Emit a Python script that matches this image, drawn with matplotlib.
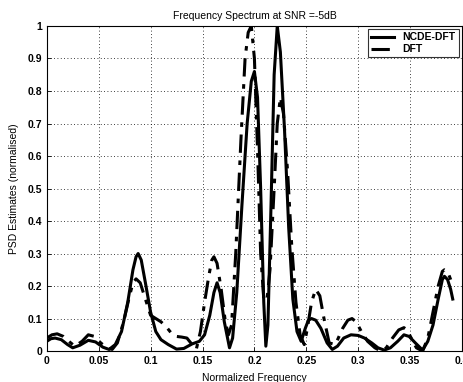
import numpy as np
import matplotlib
matplotlib.use('Agg')
from matplotlib import pyplot as plt

plt.rcParams['font.family'] = ['Liberation Sans', 'DejaVu Sans']

# NCDE-DFT (solid)
f_ncde = [0.0, 0.004, 0.008, 0.014, 0.02, 0.025, 0.032, 0.04, 0.047, 0.054, 0.06, 0.066,
          0.072, 0.078, 0.083, 0.086, 0.088, 0.091, 0.095, 0.10, 0.105, 0.11, 0.117, 0.125,
          0.132, 0.14, 0.147, 0.152, 0.157, 0.161, 0.164, 0.167, 0.171, 0.176, 0.179, 0.183,
          0.188, 0.193, 0.197, 0.200, 0.203, 0.206, 0.209, 0.211, 0.213, 0.216, 0.219, 0.222,
          0.225, 0.229, 0.233, 0.237, 0.241, 0.245, 0.249, 0.252, 0.255, 0.259, 0.264, 0.27,
          0.275, 0.28, 0.286, 0.293, 0.30, 0.306, 0.313, 0.319, 0.325, 0.331, 0.338, 0.344,
          0.349, 0.355, 0.362, 0.367, 0.372, 0.377, 0.381, 0.383, 0.386, 0.389, 0.391]
p_ncde = [0.03, 0.038, 0.04, 0.035, 0.02, 0.01, 0.018, 0.033, 0.028, 0.012, 0.005, 0.02,
          0.06, 0.15, 0.25, 0.29, 0.30, 0.28, 0.21, 0.12, 0.06, 0.035, 0.02, 0.006,
          0.008, 0.022, 0.03, 0.05, 0.11, 0.18, 0.21, 0.18, 0.09, 0.01, 0.04, 0.18,
          0.45, 0.7, 0.83, 0.86, 0.78, 0.5, 0.15, 0.015, 0.08, 0.45, 0.85, 1.0,
          0.92, 0.68, 0.38, 0.16, 0.06, 0.03, 0.07, 0.095, 0.10, 0.095, 0.07, 0.025,
          0.005, 0.015, 0.04, 0.05, 0.048, 0.04, 0.025, 0.01, 0.003, 0.01, 0.03, 0.05,
          0.045, 0.025, 0.003, 0.03, 0.08, 0.16, 0.22, 0.23, 0.22, 0.19, 0.16]

# DFT (dash-dot)
f_dft = [0.0, 0.005, 0.01, 0.016, 0.022, 0.027, 0.034, 0.04, 0.046, 0.052, 0.058, 0.063,
         0.068, 0.074, 0.079, 0.083, 0.086, 0.09, 0.095, 0.10, 0.105, 0.11, 0.115, 0.12,
         0.125, 0.13, 0.135, 0.14, 0.144, 0.148, 0.152, 0.156, 0.159, 0.161, 0.164, 0.168,
         0.172, 0.175, 0.178, 0.182, 0.187, 0.191, 0.194, 0.197, 0.2, 0.203, 0.206, 0.209,
         0.212, 0.215, 0.219, 0.222, 0.225, 0.228, 0.232, 0.236, 0.24, 0.244, 0.248, 0.251,
         0.255, 0.259, 0.263, 0.267, 0.272, 0.278, 0.285, 0.29, 0.294, 0.298, 0.303, 0.309,
         0.316, 0.322, 0.327, 0.333, 0.339, 0.344, 0.347, 0.351, 0.356, 0.362, 0.367, 0.372,
         0.377, 0.381, 0.383, 0.386, 0.389, 0.391]
p_dft = [0.04, 0.05, 0.053, 0.045, 0.028, 0.015, 0.03, 0.05, 0.045, 0.025, 0.01, 0.005,
         0.025, 0.09, 0.16, 0.21, 0.222, 0.21, 0.16, 0.11, 0.1, 0.09, 0.075, 0.055,
         0.045, 0.043, 0.04, 0.02, 0.005, 0.06, 0.15, 0.23, 0.28, 0.29, 0.27, 0.19,
         0.09, 0.05, 0.08, 0.3, 0.65, 0.9, 0.98, 1.0, 0.9, 0.62, 0.3, 0.16,
         0.155, 0.25, 0.5, 0.7, 0.78, 0.73, 0.55, 0.32, 0.15, 0.05, 0.02, 0.07,
         0.15, 0.19, 0.17, 0.1, 0.025, 0.02, 0.07, 0.095, 0.1, 0.09, 0.06, 0.03,
         0.01, 0.0, 0.01, 0.04, 0.065, 0.072, 0.065, 0.04, 0.01, 0.0, 0.04, 0.12,
         0.2, 0.245, 0.25, 0.245, 0.22, 0.2]

fig = plt.figure(figsize=(4.63, 3.82), dpi=100)
ax = fig.add_axes([0.101, 0.081, 0.897, 0.851])

ax.plot(f_ncde, p_ncde, color='black', linewidth=2.2, linestyle='-', label='NCDE-DFT')
ax.plot(f_dft, p_dft, color='black', linewidth=2.2, linestyle=(0, (6, 2.5, 1.5, 2.5)), label='DFT')

ax.set_xlim(0, 0.4)
ax.set_ylim(0, 1)
ax.set_xticks(np.arange(0, 0.41, 0.05))
ax.set_xticklabels(['0', '0.05', '0.1', '0.15', '0.2', '0.25', '0.3', '0.35', '0.4'])
ax.set_yticks(np.arange(0, 1.01, 0.1))
ax.set_yticklabels(['0', '0.1', '0.2', '0.3', '0.4', '0.5', '0.6', '0.7', '0.8', '0.9', '1'])
ax.tick_params(direction='in', length=3, labelsize=7.5, width=0.6)
for lab in ax.get_xticklabels() + ax.get_yticklabels():
    lab.set_fontweight('bold')
ax.grid(True, color='black', linestyle=(0, (1, 3)), linewidth=0.6)
for s in ax.spines.values():
    s.set_linewidth(0.8)

ax.set_title('Frequency Spectrum at SNR =-5dB', fontsize=7.5, pad=5)
ax.set_xlabel('Normalized Frequency', fontsize=7.5, labelpad=5)
ax.set_ylabel('PSD Estimates (normalised)', fontsize=7.5, labelpad=6)

leg = ax.legend(loc='upper right', fontsize=7.5, frameon=True, fancybox=False,
                edgecolor='black', handlelength=2.2, borderpad=0.3, labelspacing=0.2,
                borderaxespad=0.3)
leg.get_frame().set_linewidth(0.8)
for t in leg.get_texts():
    t.set_fontweight('bold')

fig.savefig('out.png', dpi=100)
